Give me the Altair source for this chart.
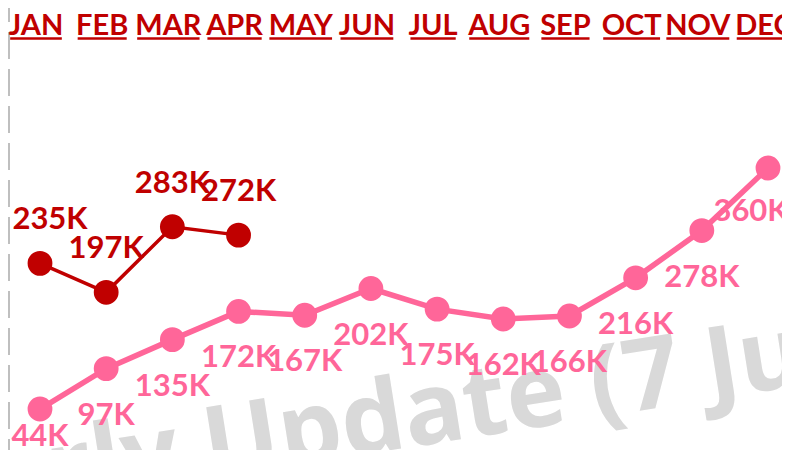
import altair as alt
import pandas as pd

MONTHS = ["JAN", "FEB", "MAR", "APR", "MAY", "JUN", "JUL", "AUG", "SEP", "OCT", "NOV", "DEC"]
PINK_VALUES = [44, 97, 135, 172, 167, 202, 175, 162, 166, 216, 278, 360]
RED_MONTHS = ["JAN", "FEB", "MAR", "APR"]
RED_VALUES = [235, 197, 283, 272]
WATERMARK_LEFT = "Quarterly"
WATERMARK_RIGHT = "Update (7 Jun 2023)"

PINK = "#ff6699"
RED = "#c00000"
GRAY = "#d9d9d9"
FONT = "Lato"
MONTH_FS = 29

# approximate bold glyph advance widths (em) used to size the underlines
GLYPH_EM = {"A": .69, "B": .66, "C": .65, "D": .74, "E": .56, "F": .54, "G": .72,
            "J": .40, "L": .50, "M": .90, "N": .76, "O": .79, "P": .62, "R": .63,
            "S": .55, "T": .59, "U": .73, "V": .69, "Y": .64}

W, H = 774, 442

pink_df = pd.DataFrame({"month": MONTHS, "v": PINK_VALUES})
pink_df["label"] = [f"{v}K" for v in PINK_VALUES]
red_df = pd.DataFrame({"month": RED_MONTHS, "v": RED_VALUES})
red_df["label"] = [f"{v}K" for v in RED_VALUES]
month_df = pd.DataFrame({"month": MONTHS})
month_df["w"] = [sum(GLYPH_EM[c] for c in m) * MONTH_FS - 2 for m in MONTHS]

x_scale = alt.Scale(type="point", domain=MONTHS, range=[32, 760], padding=0)
y_scale = alt.Scale(domain=[0, 400], range=[434.6, 129.5])
X = alt.X("month:N", scale=x_scale, axis=None)
Y = alt.Y("v:Q", scale=y_scale, axis=None)

wm_df = pd.DataFrame({"a": [WATERMARK_LEFT], "b": [WATERMARK_RIGHT]})
wm_common = dict(font="Open Sans", fontSize=100, fontWeight="bold", color=GRAY,
                 angle=351, baseline="alphabetic")
wm_left = alt.Chart(wm_df).mark_text(align="right", dx=-26, **wm_common).encode(
    x=alt.value(201), y=alt.value(471), text="a:N")
wm_right = alt.Chart(wm_df).mark_text(align="left", **wm_common).encode(
    x=alt.value(201), y=alt.value(471), text="b:N")

dash = alt.Chart(month_df).mark_rule(color="#bfbfbf", strokeWidth=2,
                                     strokeDash=[27, 10], strokeDashOffset=13).encode(
    x=alt.value(1), y=alt.value(0), y2=alt.value(H))

months_txt = alt.Chart(month_df).mark_text(
    font=FONT, fontSize=MONTH_FS, fontWeight="bold", color=RED,
    baseline="alphabetic", dx=-4).encode(x=X, y=alt.value(27), text="month:N")
underline = alt.Chart(month_df).mark_tick(
    orient="horizontal", thickness=2.5, color=RED, xOffset=-4, opacity=1).encode(
    x=X, y=alt.value(30.5), size=alt.Size("w:Q", scale=None))

pink_base = alt.Chart(pink_df).encode(x=X, y=Y)
pink_line = pink_base.mark_line(color=PINK, strokeWidth=5.5)
pink_pts = pink_base.mark_circle(size=616, color=PINK, opacity=1)

red_base = alt.Chart(red_df).encode(x=X, y=Y)
red_line = red_base.mark_line(color=RED, strokeWidth=3.5)
red_pts = red_base.mark_circle(size=616, color=RED, opacity=1)

lab = dict(font=FONT, fontSize=31, fontWeight="bold", baseline="middle")
pink_lab = pink_base.mark_text(color=PINK, dy=47, **lab).encode(text="label:N").transform_filter(
    (alt.datum.month != "JAN") & (alt.datum.month != "DEC"))
pink_lab_first = pink_base.mark_text(color=PINK, dy=28, **lab).encode(text="label:N").transform_filter(
    alt.datum.month == "JAN")
pink_lab_last = pink_base.mark_text(color=PINK, dy=44, dx=-17, **lab).encode(text="label:N").transform_filter(
    alt.datum.month == "DEC")
red_lab = red_base.mark_text(color=RED, dy=-43, **lab).encode(text="label:N").transform_filter(
    alt.datum.month != "JAN")
red_lab_first = red_base.mark_text(color=RED, dy=-43, dx=10, **lab).encode(text="label:N").transform_filter(
    alt.datum.month == "JAN")

chart = alt.layer(
    wm_left, wm_right, dash, months_txt, underline,
    pink_line, pink_pts, red_line, red_pts,
    pink_lab, pink_lab_first, pink_lab_last, red_lab, red_lab_first,
).properties(
    width=W, height=H, autosize=alt.AutoSizeParams(type="none"), padding=0,
    background="white",
).configure_view(stroke=None)

chart.save("out.html", embed_options={"renderer": "svg", "actions": False})
